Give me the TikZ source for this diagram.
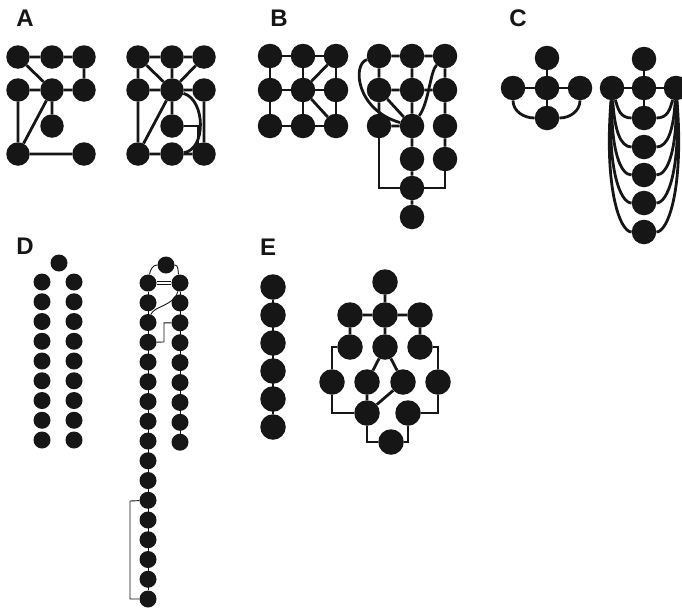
\documentclass[tikz,border=0pt]{standalone}
\usepackage{fontspec}
\setmainfont{Liberation Sans}
\usetikzlibrary{backgrounds}
\definecolor{nd}{HTML}{161616}
\begin{document}
\begin{tikzpicture}[x=1pt,y=-1pt,
  nA/.style={circle,fill=nd,inner sep=0pt,minimum size=23.5pt},
  nC/.style={circle,fill=nd,inner sep=0pt,minimum size=24.5pt},
  nD/.style={circle,fill=nd,inner sep=0pt,minimum size=17pt},
  nE/.style={circle,fill=nd,inner sep=0pt,minimum size=25.5pt},
  thk/.style={line width=2.8pt,draw=nd},
  thn/.style={line width=0.9pt,draw=nd},
  lab/.style={font=\bfseries\fontsize{24}{24}\selectfont,text=nd,inner sep=0pt}]
\useasboundingbox (0,0) rectangle (682,608);
\begin{scope}[on background layer]
\fill[white] (0,0) rectangle (682,608);
\end{scope}

% labels
\node[lab] (labA) at (25,18) {A};
\node[lab] (labB) at (279,18) {B};
\node[lab] (labC) at (518,18) {C};
\node[lab] (labD) at (25,246) {D};
\node[lab] (labE) at (268,247) {E};

% ---------- A left
\node[nA] (aL11) at (18,57) {};
\node[nA] (aL12) at (52,57) {};
\node[nA] (aL13) at (84,57) {};
\node[nA] (aL21) at (18,90) {};
\node[nA] (aL22) at (52,90) {};
\node[nA] (aL23) at (84,90) {};
\node[nA] (aL32) at (52,126) {};
\node[nA] (aL41) at (18,154) {};
\node[nA] (aL43) at (84,154) {};
% ---------- A right
\node[nA] (aR11) at (138,57) {};
\node[nA] (aR12) at (172,57) {};
\node[nA] (aR13) at (204,57) {};
\node[nA] (aR21) at (138,90) {};
\node[nA] (aR22) at (172,90) {};
\node[nA] (aR23) at (204,90) {};
\node[nA] (aR32) at (172,126) {};
\node[nA] (aR41) at (138,154) {};
\node[nA] (aR42) at (172,154) {};
\node[nA] (aR43) at (204,154) {};
\coordinate (aRk) at (198,126);
\coordinate (aRm) at (198,150);

% ---------- B left
\foreach \c/\x in {1/270,2/303,3/336}{
  \foreach \r/\y in {1/56,2/90,3/126}{
    \node[nC] (bL\r\c) at (\x,\y) {};
  }
}
% ---------- B right
\node[nC] (bR11) at (379,56) {};
\node[nC] (bR12) at (412,56) {};
\node[nC] (bR13) at (445,56) {};
\node[nC] (bR21) at (379,90) {};
\node[nC] (bR22) at (412,90) {};
\node[nC] (bR23) at (445,90) {};
\node[nC] (bR31) at (379,126) {};
\node[nC] (bR32) at (412,126) {};
\node[nC] (bR33) at (445,126) {};
\node[nC] (bR42) at (412,159) {};
\node[nC] (bR43) at (445,159) {};
\node[nC] (bR52) at (412,188) {};
\node[nC] (bR62) at (412,217) {};

% ---------- C left
\node[nC] (cT) at (547,58) {};
\node[nC] (cL) at (513,88) {};
\node[nC] (cC) at (547,88) {};
\node[nC] (cR) at (580,88) {};
\node[nC] (cB) at (547,118) {};
% ---------- C right
\node[nC] (crT) at (644,59) {};
\node[nC] (crL) at (612,88) {};
\node[nC] (crC) at (644,88) {};
\node[nC] (crR) at (676,88) {};
\node[nC] (cr1) at (644,118) {};
\node[nC] (cr2) at (644,147) {};
\node[nC] (cr3) at (644,175) {};
\node[nC] (cr4) at (644,203) {};
\node[nC] (cr5) at (644,232) {};

% ---------- D left
\node[nD] (dT) at (59,263) {};
\foreach \i in {1,...,9}{
  \node[nD] (dL\i) at (42,{282+19.75*(\i-1)}) {};
  \node[nD] (dR\i) at (74,{282+19.75*(\i-1)}) {};
}
% ---------- D right
\node[nD] (drT) at (166,265) {};
\foreach \i in {1,...,17}{
  \node[nD] (drL\i) at (148,{283+19.75*(\i-1)}) {};
}
\foreach \i in {1,...,9}{
  \node[nD] (drR\i) at (180,{283+19.9*(\i-1)}) {};
}
\coordinate (dka) at (164,342);
\coordinate (dkb) at (130,501);

% ---------- E left
\foreach \i/\y in {1/287,2/315,3/343,4/371,5/399,6/427}{
  \node[nE] (eL\i) at (273,\y) {};
}
% ---------- E right
\node[nE] (eT) at (385,282) {};
\node[nE] (e21) at (350,315) {};
\node[nE] (e22) at (385,315) {};
\node[nE] (e23) at (420,315) {};
\node[nE] (e31) at (350,347) {};
\node[nE] (e32) at (385,347) {};
\node[nE] (e33) at (420,347) {};
\node[nE] (e41) at (332,382) {};
\node[nE] (e42) at (367,382) {};
\node[nE] (e43) at (403,382) {};
\node[nE] (e44) at (438,382) {};
\node[nE] (e51) at (367,413) {};
\node[nE] (e52) at (408,413) {};
\node[nE] (e6) at (391,442) {};

% ================= edges
\begin{scope}[on background layer]
% A left
\draw[thk] (aL11)--(aL12) (aL12)--(aL13) (aL13)--(aL23) (aL11)--(aL22)
  (aL21)--(aL22) (aL22)--(aL23) (aL22)--(aL32) (aL21)--(aL41)
  (aL22)--(aL41) (aL41)--(aL43);
% A right
\draw[thk] (aR11)--(aR12) (aR12)--(aR13) (aR11)--(aR21) (aR12)--(aR22)
  (aR11)--(aR22) (aR13)--(aR22) (aR21)--(aR22) (aR22)--(aR23)
  (aR22)--(aR32) (aR21)--(aR41) (aR23)--(aR43) (aR22)--(aR41)
  (aR41)--(aR42) (aR42)--(aR43);
\draw[thk] (aR22) .. controls (206,100) and (206,150) .. (aR42);
\draw[thk] (aR32) -- (aRk) -- (aRm);
% B left
\foreach \r in {1,2,3}{
  \draw[thk] (bL\r1)--(bL\r2) (bL\r2)--(bL\r3);
  \draw[thk] (bL1\r)--(bL2\r) (bL2\r)--(bL3\r);
}
\draw[thk] (bL22)--(bL13) (bL22)--(bL33);
% B right
\draw[thk] (bR11)--(bR12) (bR12)--(bR13) (bR21)--(bR22) (bR22)--(bR23)
  (bR31)--(bR32)
  (bR11)--(bR21) (bR21)--(bR31)
  (bR12)--(bR22) (bR22)--(bR32) (bR32)--(bR42) (bR42)--(bR52) (bR52)--(bR62)
  (bR13)--(bR23) (bR23)--(bR33) (bR33)--(bR43)
  (bR21)--(bR32);
\draw[thk] (bR11) .. controls (352,64) and (356,110) .. (bR32);
\draw[thk] (bR32) .. controls (429,102) and (430,72) .. (bR13);
\draw[thk] (bR31) |- (bR52);
\draw[thk] (bR43) |- (bR52);
% C left
\draw[thk] (cT)--(cC) (cL)--(cC) (cC)--(cR) (cC)--(cB);
\draw[thk] (cL) to[out=-90,in=180] (cB);
\draw[thk] (cR) to[out=-90,in=0] (cB);
% C right
\draw[thk] (crT)--(crC) (crL)--(crC) (crC)--(crR) (crC)--(cr1);
\foreach \k/\y/\s in {1/118/6,2/147/2.5,3/175/-1,4/203/-4.5,5/232/-8}{
  \draw[thk] (crL) .. controls ({612+\s},{88+0.7*(\y-88)}) and (620,\y) .. (cr\k);
  \draw[thk] (crR) .. controls ({676-\s},{88+0.7*(\y-88)}) and (668,\y) .. (cr\k);
}
% D right
\draw[thn] (drL1)--(drL17);
\draw[thn] (drR1)--(drR9);
\draw[thn] (drL1) to[out=80,in=180] (drT);
\draw[thn] (drT) to[out=0,in=100] (drR1);
\draw[line width=0.8pt,draw=nd,double=white,double distance=1.8pt] (drL1)--(drR1);
\draw[thn] (drL3) .. controls (154,306) and (174,306) .. (drR1);
\draw[thn] (drL4) -- (dka) |- (drR3);
\draw[thn] (drL12) -- (dkb) |- (drL17);
% E left
\draw[thk] (eL1)--(eL6);
% E right
\draw[thk] (eT)--(e22) (e21)--(e22) (e22)--(e23) (e21)--(e31) (e22)--(e32)
  (e23)--(e33) (e32)--(e42) (e32)--(e43) (e43)--(e51) (e42)--(e51);
\draw[thk] (e31) -| (e41);
\draw[thk] (e33) -| (e44);
\draw[thk] (e41) |- (e51);
\draw[thk] (e44) |- (e52);
\draw[thk] (e51) |- (e6);
\draw[thk] (e52) |- (e6);
\end{scope}
\end{tikzpicture}
\end{document}
